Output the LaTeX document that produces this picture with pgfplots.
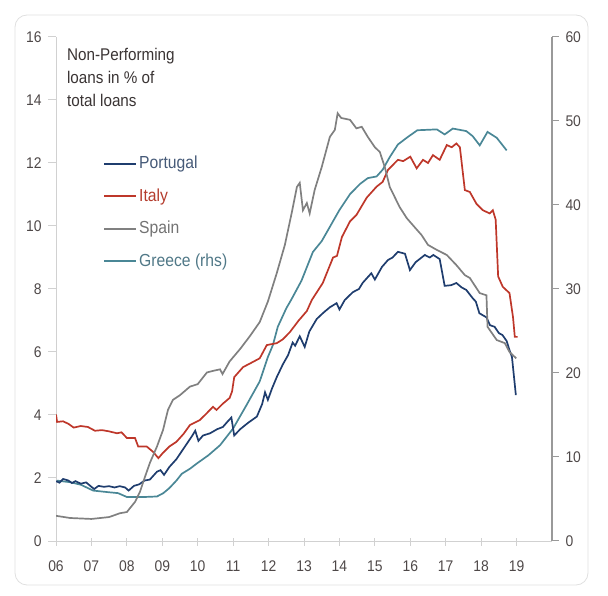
\documentclass[border=0pt]{standalone}
\usepackage{fontspec}
\setmainfont{Liberation Sans}[FakeStretch=0.9]
\usepackage{pgfplots}
\pgfplotsset{compat=1.18}
\definecolor{ptcol}{RGB}{31,61,110}
\definecolor{itcol}{RGB}{190,55,42}
\definecolor{spcol}{RGB}{128,128,128}
\definecolor{grcol}{RGB}{74,135,150}
\definecolor{ticktext}{RGB}{78,72,72}
\definecolor{titlecol}{RGB}{58,52,52}
\definecolor{pttext}{RGB}{70,90,120}
\definecolor{ittext}{RGB}{180,60,45}
\definecolor{sptext}{RGB}{115,115,115}
\definecolor{grtext}{RGB}{80,120,135}
\begin{document}
\begin{tikzpicture}
\path[use as bounding box] (0,0) rectangle (608bp,596bp);
\draw[draw=black!12, line width=0.8bp, rounded corners=12bp] (15bp,11bp) rectangle (588bp,581bp);

% right axis: Greece
\begin{axis}[
  at={(56bp,55bp)}, anchor=south west, scale only axis,
  width=496bp, height=504bp,
  xmin=2006, xmax=2020, ymin=0, ymax=60,
  axis x line=none, axis y line=right,
  axis line style={-, draw=black!40, line width=1.4bp},
  ytick={0,10,20,30,40,50,60},
  tick align=outside, major tick length=7bp,
  ytick style={draw=black!40, line width=1bp},
  /pgf/number format/assume math mode=true,
  tick label style={font=\fontsize{15.5}{15.5}\selectfont, text=ticktext},
  yticklabel style={xshift=3bp},
]
\addplot[grcol, line width=1.7bp] coordinates {
(2006.00,7.2) (2006.40,7.0) (2006.70,6.7) (2007.05,6.0) (2007.50,5.8) (2007.75,5.7)
(2008.00,5.24) (2008.50,5.24) (2008.85,5.3) (2009.03,5.7) (2009.20,6.3) (2009.40,7.2)
(2009.55,8.0) (2009.78,8.6) (2010.00,9.3) (2010.30,10.2) (2010.63,11.4) (2011.00,13.4)
(2011.38,16.2) (2011.75,19.0) (2011.98,21.9) (2012.12,23.3) (2012.26,25.5) (2012.50,27.7)
(2012.65,28.8) (2012.93,31.0) (2013.25,34.4) (2013.50,35.7) (2013.73,37.4) (2014.00,39.4)
(2014.30,41.3) (2014.58,42.5) (2014.80,43.2) (2015.05,43.4) (2015.22,44.2) (2015.42,45.7)
(2015.65,47.2) (2015.93,48.1) (2016.20,48.9) (2016.75,49.0) (2016.97,48.4) (2017.20,49.1)
(2017.58,48.8) (2017.76,48.2) (2017.96,47.1) (2018.18,48.7) (2018.44,48.0) (2018.72,46.5)
};
\end{axis}

% left axis
\begin{axis}[
  at={(56bp,55bp)}, anchor=south west, scale only axis,
  width=496bp, height=504bp,
  xmin=2006, xmax=2020, ymin=0, ymax=16,
  axis x line=bottom, axis y line=left,
  axis line style={-, draw=black!18, line width=1bp},
  xtick={2006,2007,2008,2009,2010,2011,2012,2013,2014,2015,2016,2017,2018,2019},
  xticklabels={06,07,08,09,10,11,12,13,14,15,16,17,18,19},
  ytick={0,2,4,6,8,10,12,14,16},
  tick align=outside, major tick length=8bp,
  tick style={draw=black!18, line width=1bp},
  xtick style={yshift=3bp},
  /pgf/number format/assume math mode=true,
  tick label style={font=\fontsize{15.5}{15.5}\selectfont, text=ticktext},
  yticklabel style={xshift=-3bp},
  xticklabel style={yshift=-8bp},
  legend style={at={(axis description cs:0.0948,0.763)}, anchor=north west,
    draw=none, fill=none, inner sep=0pt, row sep=17bp, column sep=2bp,
    nodes={inner sep=0pt, text height=12bp, text depth=3.5bp},
    font=\fontsize{17.5}{17.5}\selectfont},
  legend cell align=left,
  legend image code/.code={\draw[#1, line width=2bp] (0bp,0.5bp) -- (32bp,0.5bp);},
]
\node[anchor=north west, align=left, inner sep=0pt, text=titlecol,
  font=\fontsize{17}{23}\selectfont] at (axis description cs:0.022,0.978)
  {Non-Performing\\loans in \% of\\total loans};

\addplot[ptcol, line width=1.7bp] coordinates {
(2006.00,1.90) (2006.10,1.85) (2006.20,1.97) (2006.35,1.92) (2006.45,1.84) (2006.55,1.90)
(2006.70,1.82) (2006.85,1.86) (2007.00,1.72) (2007.08,1.65) (2007.20,1.75) (2007.35,1.72)
(2007.50,1.74) (2007.65,1.70) (2007.80,1.74) (2007.95,1.70) (2008.05,1.60) (2008.20,1.75)
(2008.35,1.80) (2008.50,1.92) (2008.65,1.95) (2008.85,2.20) (2008.95,2.25) (2009.05,2.10)
(2009.20,2.35) (2009.40,2.60) (2009.55,2.85) (2009.70,3.10) (2009.85,3.35) (2009.93,3.50)
(2010.02,3.18) (2010.15,3.35) (2010.35,3.42) (2010.55,3.55) (2010.71,3.62) (2010.85,3.80)
(2010.95,3.92) (2011.03,3.35) (2011.20,3.55) (2011.42,3.75) (2011.67,3.95) (2011.82,4.35)
(2011.90,4.72) (2011.98,4.48) (2012.10,4.85) (2012.23,5.20) (2012.40,5.60) (2012.55,5.90)
(2012.68,6.30) (2012.75,6.20) (2012.88,6.50) (2013.02,6.16) (2013.15,6.65) (2013.36,7.05)
(2013.55,7.25) (2013.73,7.42) (2013.92,7.55) (2014.00,7.35) (2014.15,7.65) (2014.38,7.90)
(2014.55,8.00) (2014.66,8.20) (2014.90,8.50) (2015.00,8.30) (2015.20,8.70) (2015.37,8.92)
(2015.50,9.00) (2015.65,9.18) (2015.85,9.12) (2015.99,8.60) (2016.15,8.85) (2016.41,9.08)
(2016.55,9.00) (2016.65,9.08) (2016.83,8.95) (2016.97,8.10) (2017.15,8.12) (2017.30,8.19)
(2017.45,8.05) (2017.58,7.97) (2017.76,7.71) (2017.85,7.60) (2017.95,7.23) (2018.15,7.10)
(2018.25,6.85) (2018.38,6.80) (2018.50,6.60) (2018.60,6.54) (2018.72,6.35) (2018.80,6.06)
(2018.87,5.84) (2018.98,4.63)
};
\addlegendentry{\textcolor{pttext}{Portugal}}

\addplot[itcol, line width=1.7bp] coordinates {
(2006.00,4.02) (2006.03,3.78) (2006.20,3.80) (2006.35,3.72) (2006.50,3.60) (2006.70,3.65)
(2006.90,3.62) (2007.10,3.50) (2007.30,3.52) (2007.50,3.48) (2007.72,3.42) (2007.85,3.45)
(2008.00,3.27) (2008.23,3.27) (2008.32,3.00) (2008.56,3.00) (2008.74,2.83) (2008.89,2.63)
(2009.02,2.80) (2009.20,3.00) (2009.40,3.15) (2009.60,3.40) (2009.78,3.68) (2010.06,3.84)
(2010.25,4.05) (2010.43,4.26) (2010.53,4.16) (2010.70,4.35) (2010.90,4.54) (2010.97,4.75)
(2011.03,5.20) (2011.28,5.52) (2011.50,5.65) (2011.75,5.80) (2011.95,6.22) (2012.23,6.28)
(2012.40,6.40) (2012.60,6.63) (2012.85,7.00) (2013.08,7.30) (2013.22,7.65) (2013.53,8.19)
(2013.82,9.00) (2013.93,9.05) (2014.07,9.65) (2014.30,10.15) (2014.48,10.35) (2014.77,10.90)
(2015.05,11.25) (2015.22,11.40) (2015.37,11.78) (2015.65,12.10) (2015.80,12.06) (2016.00,12.20)
(2016.18,11.83) (2016.36,12.10) (2016.50,12.00) (2016.64,12.25) (2016.83,12.10) (2017.03,12.57)
(2017.17,12.50) (2017.30,12.62) (2017.40,12.50) (2017.54,11.14) (2017.68,11.08) (2017.87,10.70)
(2018.05,10.50) (2018.24,10.40) (2018.33,10.50) (2018.41,10.20) (2018.48,8.40) (2018.61,8.07)
(2018.80,7.87) (2018.90,7.10) (2018.95,6.48) (2019.03,6.48)
};
\addlegendentry{\textcolor{ittext}{Italy}}

\addplot[spcol, line width=1.7bp] coordinates {
(2006.00,0.80) (2006.40,0.73) (2007.00,0.70) (2007.50,0.76) (2007.80,0.88) (2008.00,0.92)
(2008.23,1.24) (2008.37,1.56) (2008.50,2.00) (2008.65,2.48) (2008.85,3.00) (2009.02,3.52)
(2009.16,4.16) (2009.30,4.48) (2009.50,4.63) (2009.78,4.90) (2010.00,4.98) (2010.26,5.35)
(2010.43,5.40) (2010.63,5.45) (2010.70,5.30) (2010.90,5.70) (2011.20,6.10) (2011.47,6.50)
(2011.75,6.95) (2011.98,7.60) (2012.23,8.50) (2012.46,9.40) (2012.65,10.40) (2012.80,11.24)
(2012.88,11.37) (2012.97,10.50) (2013.08,10.73) (2013.16,10.40) (2013.30,11.14) (2013.50,11.87)
(2013.73,12.83) (2013.87,13.05) (2013.95,13.58) (2014.05,13.43) (2014.30,13.37) (2014.48,13.10)
(2014.63,13.15) (2014.80,12.83) (2015.00,12.50) (2015.14,12.35) (2015.28,11.87) (2015.42,11.24)
(2015.56,10.92) (2015.70,10.60) (2015.90,10.25) (2016.07,10.03) (2016.32,9.71) (2016.50,9.40)
(2016.75,9.24) (2017.03,9.08) (2017.30,8.76) (2017.54,8.44) (2017.68,8.35) (2017.96,7.87)
(2018.15,7.80) (2018.18,6.80) (2018.44,6.38) (2018.67,6.28) (2018.80,6.00) (2018.99,5.80)
};
\addlegendentry{\textcolor{sptext}{Spain}}

\addlegendimage{grcol, line width=1.7bp}
\addlegendentry{\textcolor{grtext}{Greece (rhs)}}
\end{axis}
\end{tikzpicture}
\end{document}
